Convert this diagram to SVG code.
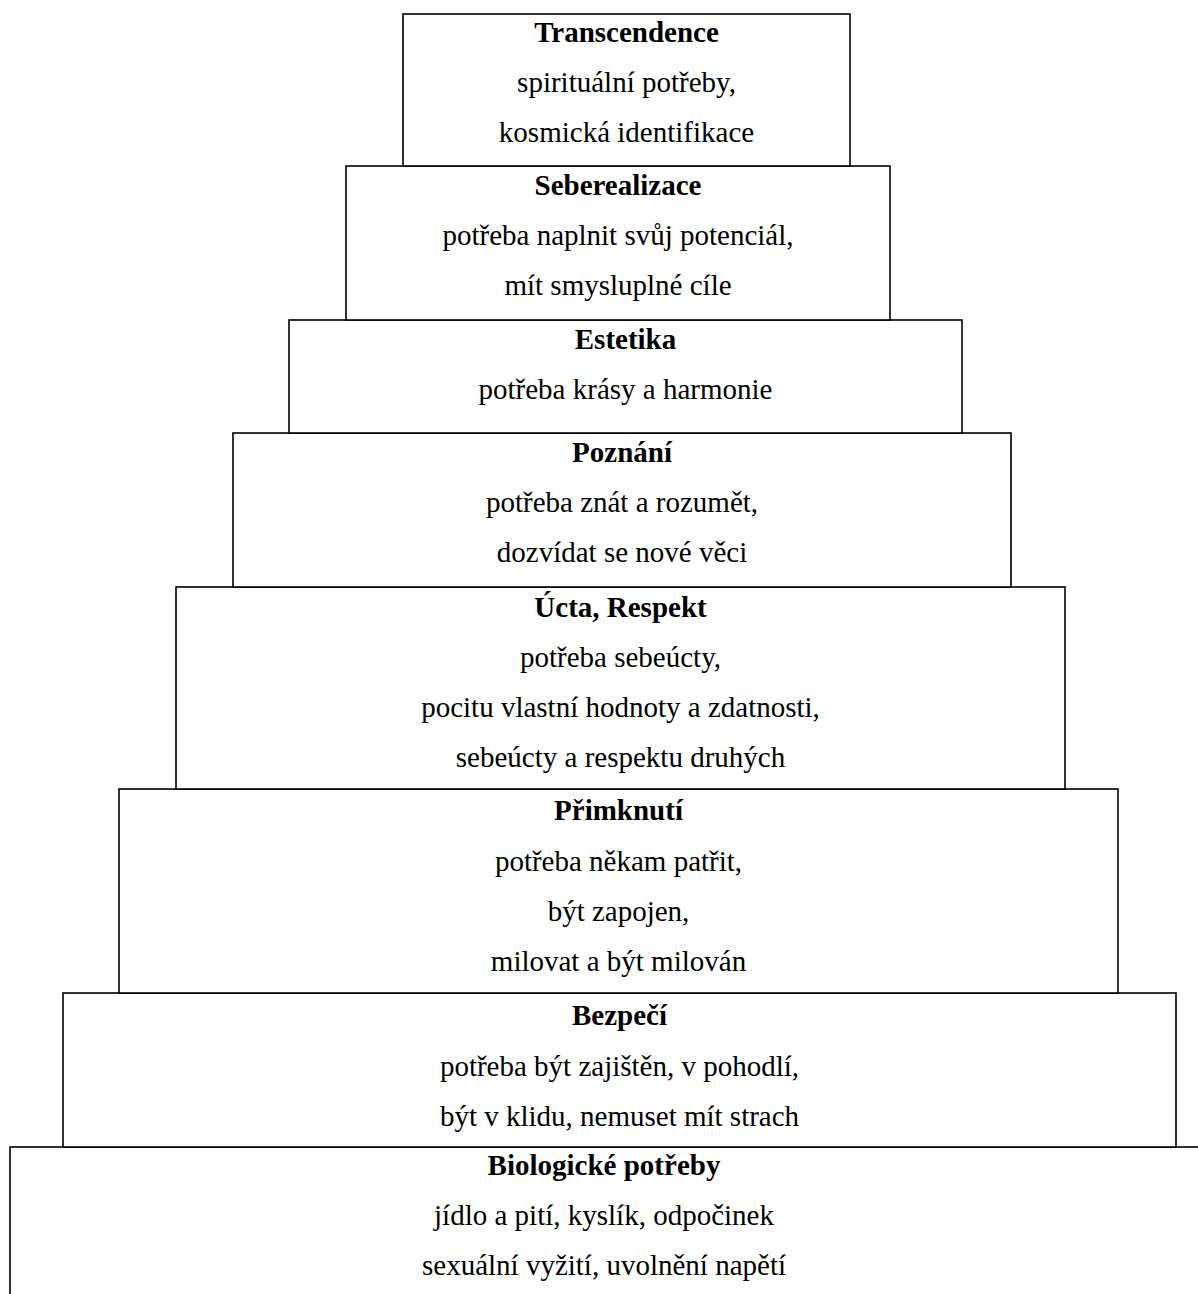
<svg xmlns="http://www.w3.org/2000/svg" width="1198" height="1294" viewBox="0 0 1198 1294">
<style>
.box{fill:#fff;stroke:#000;stroke-width:1.6}
text{font-family:"Liberation Serif","Times New Roman",serif;font-size:29px;fill:#000;text-anchor:middle}
.t{font-weight:bold}
</style>
<rect width="1198" height="1294" fill="#fff"/>
<g id="connectors"></g>
<g id="n8"><rect class="box" x="10" y="1147" width="1200" height="200"/>
<text class="t" x="604" y="1175">Biologické potřeby</text>
<text x="604" y="1225">jídlo a pití, kyslík, odpočinek</text>
<text x="604" y="1275">sexuální vyžití, uvolnění napětí</text></g>
<g id="n7"><rect class="box" x="63" y="993" width="1113" height="154"/>
<text class="t" x="619.5" y="1025">Bezpečí</text>
<text x="619.5" y="1076">potřeba být zajištěn, v pohodlí,</text>
<text x="619.5" y="1126">být v klidu, nemuset mít strach</text></g>
<g id="n6"><rect class="box" x="119" y="789" width="999" height="204"/>
<text class="t" x="618.5" y="820">Přimknutí</text>
<text x="618.5" y="871">potřeba někam patřit,</text>
<text x="618.5" y="921">být zapojen,</text>
<text x="618.5" y="971">milovat a být milován</text></g>
<g id="n5"><rect class="box" x="176" y="587" width="889" height="202"/>
<text class="t" x="620.5" y="617">Úcta, Respekt</text>
<text x="620.5" y="667">potřeba sebeúcty,</text>
<text x="620.5" y="717">pocitu vlastní hodnoty a zdatnosti,</text>
<text x="620.5" y="767">sebeúcty a respektu druhých</text></g>
<g id="n4"><rect class="box" x="233" y="433" width="778" height="154"/>
<text class="t" x="622" y="462">Poznání</text>
<text x="622" y="512">potřeba znát a rozumět,</text>
<text x="622" y="562">dozvídat se nové věci</text></g>
<g id="n3"><rect class="box" x="289" y="320" width="673" height="113"/>
<text class="t" x="625.5" y="349">Estetika</text>
<text x="625.5" y="399">potřeba krásy a harmonie</text></g>
<g id="n2"><rect class="box" x="346" y="166" width="544" height="154"/>
<text class="t" x="618" y="195">Seberealizace</text>
<text x="618" y="245">potřeba naplnit svůj potenciál,</text>
<text x="618" y="295">mít smysluplné cíle</text></g>
<g id="n1"><rect class="box" x="403" y="14" width="447" height="152"/>
<text class="t" x="626.5" y="42">Transcendence</text>
<text x="626.5" y="92">spirituální potřeby,</text>
<text x="626.5" y="142">kosmická identifikace</text></g>
</svg>
